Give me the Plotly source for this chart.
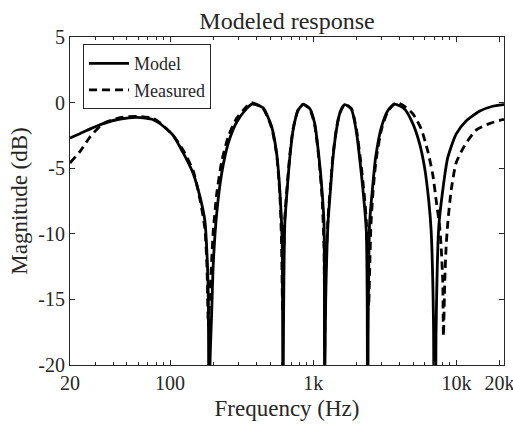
import math
import plotly.graph_objects as go

# ---------------- data ----------------
model_freq = [20, 23.6, 27.7, 34.1, 44.8, 58.9, 76.1, 85.2, 105, 123, 145, 162, 175, 181, 185, 187,
              190, 195.3, 200.3, 211.5, 229.3, 254.8, 291.6, 342.3, 372.8, 397.5, 446.9, 511.3, 554, 584.4, 606.4, 613,
              618, 623, 633, 656.8, 686, 723, 783.8, 849.1, 945.4, 1024, 1097.6, 1151.7, 1189, 1196, 1202,
              1208, 1222, 1268, 1318, 1374, 1451, 1530, 1658, 1846, 2000, 2167, 2285, 2348, 2382, 2398,
              2416, 2476, 2585, 2726, 2988, 3321, 3698, 4341, 4961, 5524, 5984, 6412, 6663, 6915, 7062,
              7198, 7528, 8025, 8700, 9952, 11683, 14466, 17906, 21260, 21500]
model_db = [-2.7, -2.35, -2.0, -1.6, -1.25, -1.12, -1.3, -1.6, -2.5, -3.8, -5.4, -7.2, -9.0, -11.5, -15, -45,
            -20, -16, -12.3, -8.5, -5.4, -3.1, -1.5, -0.46, -0.12, -0.15, -0.4, -1.8, -3.8, -6.7, -10.5, -45,
            -20, -14, -9.2, -6.7, -4.2, -2.1, -0.6, -0.15, -0.46, -1.6, -4.2, -6.7, -9.2, -13, -45,
            -20, -15, -9.2, -6.7, -4.2, -2.1, -0.85, -0.15, -0.5, -2.2, -5.4, -8.0, -9.8, -15, -45,
            -18, -9.2, -6.7, -4.2, -1.9, -0.6, -0.12, -0.48, -1.6, -3.1, -4.9, -7.5, -9.8, -16.6, -45,
            -18, -9.5, -6.7, -4.2, -2.4, -1.4, -0.66, -0.28, -0.15, -0.15]

measured_freq = [20, 23.6, 27.7, 34.1, 44.8, 58.9, 76.1, 85.2, 105, 123, 145, 162, 175, 181, 185,
                 189, 195.3, 200.3, 211.5, 229.3, 254.8, 291.6, 342.3, 368, 397.5, 446.9, 511.3, 554, 584.4, 600, 611,
                 617, 633, 656.8, 686, 723, 783.8, 849.1, 945.4, 1024, 1097.6, 1151.7, 1189, 1204,
                 1212, 1268, 1318, 1374, 1451, 1530, 1658, 1846, 2000, 2167, 2285, 2348, 2400, 2440,
                 2476, 2530, 2620, 2760, 3020, 3350, 3800, 4225, 4961, 5675, 6310, 6839, 7291, 7612, 7824, 8025, 8116,
                 8300, 8475, 8700, 9186, 9952, 11368, 13724, 16982, 21017, 21500]
measured_db = [-4.6, -3.7, -2.6, -1.6, -1.15, -1.05, -1.2, -1.55, -2.5, -3.6, -5.2, -7.4, -9.6, -12.5, -17,
               -15, -12, -9.8, -7.0, -4.5, -2.6, -1.2, -0.3, 0.0, -0.1, -0.45, -1.9, -3.9, -7.0, -10.5, -16,
               -13, -8.8, -6.4, -4.0, -2.0, -0.55, -0.12, -0.5, -1.7, -4.4, -7.2, -11, -19,
               -14, -8.8, -6.4, -4.0, -2.0, -0.8, -0.12, -0.45, -2.0, -4.9, -7.3, -9.0, -11.8, -15.5,
               -13, -9.3, -6.7, -4.2, -1.9, -0.6, 0.0, -0.2, -0.85, -2.0, -3.7, -5.5, -7.8, -9.3, -11, -13.6, -17.8,
               -13.5, -11, -9.2, -6.7, -4.6, -3.3, -2.1, -1.6, -1.3, -1.3]

x_tick_vals = [20, 100, 1000, 10000, 20000]
x_tick_text = ["20", "100", "1k", "10k", "20k"]
x_minor_vals = [30, 40, 50, 60, 70, 80, 90, 200, 300, 400, 500, 600, 700, 800, 900,
                2000, 3000, 4000, 5000, 6000, 7000, 8000, 9000]
y_tick_vals = [-20, -15, -10, -5, 0, 5]
y_tick_text = ["-20", "-15", "-10", "-5", "0", "5"]

AX = "#262626"
FONT = "Liberation Serif"

fig = go.Figure()
fig.add_trace(go.Scatter(x=model_freq, y=model_db, mode="lines", name="Model",
                         line=dict(color="black", width=2.8, shape="spline", smoothing=0.6)))
fig.add_trace(go.Scatter(x=measured_freq, y=measured_db, mode="lines", name="Measured",
                         line=dict(color="black", width=2.8, dash="8px,5px", shape="spline", smoothing=0.6)))

fig.update_layout(
    template="none",
    width=513, height=428,
    margin=dict(l=70, r=9, t=37, b=63),
    plot_bgcolor="white", paper_bgcolor="white",
    font=dict(family=FONT, size=20, color=AX),
    title=dict(text="Modeled response", x=0.5, xref="paper", xanchor="center",
               y=1 - 21 / 428, yref="container", yanchor="middle",
               font=dict(family=FONT, size=24, color=AX)),
    legend=dict(x=0.03, y=0.978, xanchor="left", yanchor="top", itemwidth=40,
                bordercolor=AX, borderwidth=1, bgcolor="white",
                font=dict(family=FONT, size=18, color=AX), tracegroupgap=0),
    showlegend=True,
)
fig.update_xaxes(
    type="log", range=[math.log10(20), math.log10(21500)], automargin=False,
    tickmode="array", tickvals=x_tick_vals, ticktext=x_tick_text,
    ticks="inside", ticklen=5, tickwidth=1, tickcolor=AX,
    showline=True, linecolor=AX, linewidth=1, mirror="ticks",
    showgrid=False, zeroline=False, ticklabeloverflow="allow",
    minor=dict(tickmode="array", tickvals=x_minor_vals, ticks="inside", ticklen=3,
               tickwidth=1, tickcolor=AX, showgrid=False),
    tickfont=dict(family=FONT, size=20, color=AX),
    title=dict(text="Frequency (Hz)", font=dict(family=FONT, size=23, color=AX), standoff=6),
)
fig.update_yaxes(
    range=[-20, 5], automargin=False,
    tickmode="array", tickvals=y_tick_vals, ticktext=y_tick_text,
    ticks="inside", ticklen=5, tickwidth=1, tickcolor=AX,
    showline=True, linecolor=AX, linewidth=1, mirror="ticks",
    showgrid=False, zeroline=False,
    tickfont=dict(family=FONT, size=20, color=AX),
    title=dict(text="Magnitude (dB)", font=dict(family=FONT, size=23, color=AX), standoff=4),
)

fig.write_html("out.html")
